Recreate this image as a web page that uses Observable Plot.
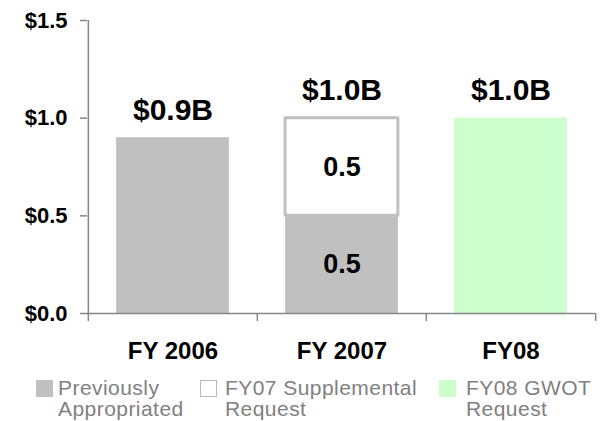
<!DOCTYPE html>
<html><head><meta charset="utf-8">
<script src="https://cdn.jsdelivr.net/npm/d3@7"></script>
<script src="https://cdn.jsdelivr.net/npm/@observablehq/plot@0.6"></script>
<style>
body{margin:0;background:#fff;font-family:"Liberation Sans",Arial,sans-serif;}
#wrap{position:relative;width:602px;height:421px;overflow:hidden;}
#wrap svg{display:block;}
.legend{position:absolute;top:377px;left:0;width:602px;height:44px;}
.sw{position:absolute;top:3px;width:17px;height:17px;box-sizing:border-box;}
.lab{position:absolute;top:0;font-size:21px;line-height:21px;letter-spacing:0.45px;color:#808080;white-space:nowrap;}
</style></head><body><div id="wrap"></div><script>
// ---- data ----
const years = ["FY 2006", "FY 2007", "FY08"];
const seriesNames = ["Previously Appropriated", "FY07 Supplemental Request", "FY08 GWOT Request"];
const previouslyAppropriated = [0.9, 0.5, 0];
const fy07Supplemental = [0, 0.5, 0];
const fy08GwotRequest = [0, 0, 1.0];
const totalLabels = ["$0.9B", "$1.0B", "$1.0B"];
const segmentLabelYears = ["FY 2007"];
const yTicks = [0, 0.5, 1.0, 1.5];
const legendLines = [["Previously", "Appropriated"], ["FY07 Supplemental", "Request"], ["FY08 GWOT", "Request"]];

// ---- styles ----
const fills = ["#c0c0c0", "#ffffff", "#ccffcc"];
const strokes = ["none", "#c0c0c0", "none"];
const axisColor = "#868686";

const seriesValues = [previouslyAppropriated, fy07Supplemental, fy08GwotRequest];
const rows = [];
seriesValues.forEach((vals, s) => vals.forEach((v, i) => {
  if (v > 0) rows.push({year: years[i], s, series: seriesNames[s], value: v});
}));
const totals = years.map((y, i) => seriesValues.reduce((a, vals) => a + vals[i], 0));

const W = 602, H = 372, mL = 87, mR = 7, mT = 20, mB = 59;
const bw = (W - mL - mR) / years.length;
const inset = bw * 0.166;

const chart = Plot.plot({
  width: W, height: H,
  marginLeft: mL, marginRight: mR, marginTop: mT, marginBottom: mB,
  style: {fontFamily: "'Liberation Sans', Arial, sans-serif", background: "white", color: "black"},
  x: {domain: years, padding: 0, label: null},
  y: {domain: [0, 1.5], label: null},
  color: {type: "identity"},
  marks: [
    Plot.barY(rows, Plot.stackY({
      x: "year", y: "value",
      fill: d => fills[d.s], stroke: d => strokes[d.s],
      strokeWidth: 3, strokeLinejoin: "round",
      insetLeft: inset, insetRight: inset
    })),
    Plot.text(rows, Plot.stackY({
      x: "year", y: "value",
      text: d => segmentLabelYears.includes(d.year) ? d.value.toFixed(1) : null,
      fontSize: 27, fontWeight: "bold", fill: "black"
    })),
    Plot.text(years, {
      x: d => d, y: (d, i) => totals[i], text: (d, i) => totalLabels[i],
      lineAnchor: "bottom", dy: -18, fontSize: 30, fontWeight: "bold", fill: "black"
    }),
    Plot.ruleY([0], {stroke: axisColor, strokeWidth: 1.5}),
    Plot.ruleX([years[0]], {x: d => d, dx: -bw / 2, stroke: axisColor, strokeWidth: 1.5}),
    Plot.ruleX(years, {x: d => d, y1: 0, y2: 0, dx: -bw / 2, insetBottom: -8, stroke: axisColor, strokeWidth: 1.5}),
    Plot.ruleX([years[years.length - 1]], {x: d => d, y1: 0, y2: 0, dx: bw / 2, insetBottom: -8, stroke: axisColor, strokeWidth: 1.5}),
    Plot.axisY({
      ticks: yTicks, tickFormat: d => "$" + d.toFixed(1),
      tickSize: 7, tickPadding: 13, fontSize: 22, fontWeight: "bold",
      stroke: axisColor, strokeWidth: 1.5, fill: "black", label: null
    }),
    Plot.axisX({
      tickSize: 0, tickPadding: 28, fontSize: 24, fontWeight: "bold", fill: "black", label: null
    })
  ]
});
const wrap = document.getElementById("wrap");
wrap.appendChild(chart);

// legend
const swatchX = [36, 200, 439];
const labelX = [58, 225, 466];
const swatchStyles = [
  "background:#c0c0c0;",
  "background:#ffffff;border:1.5px solid #b8b8b8;",
  "background:#ccffcc;"
];
const legend = document.createElement("div");
legend.className = "legend";
seriesNames.forEach((name, i) => {
  const sw = document.createElement("div");
  sw.className = "sw";
  sw.title = name;
  sw.style.cssText = swatchStyles[i] + "left:" + swatchX[i] + "px;";
  const lab = document.createElement("div");
  lab.className = "lab";
  lab.style.left = labelX[i] + "px";
  legendLines[i].forEach((ln, k) => {
    if (k) lab.appendChild(document.createElement("br"));
    lab.appendChild(document.createTextNode(ln));
  });
  legend.appendChild(sw); legend.appendChild(lab);
});
wrap.appendChild(legend);
</script></body></html>
